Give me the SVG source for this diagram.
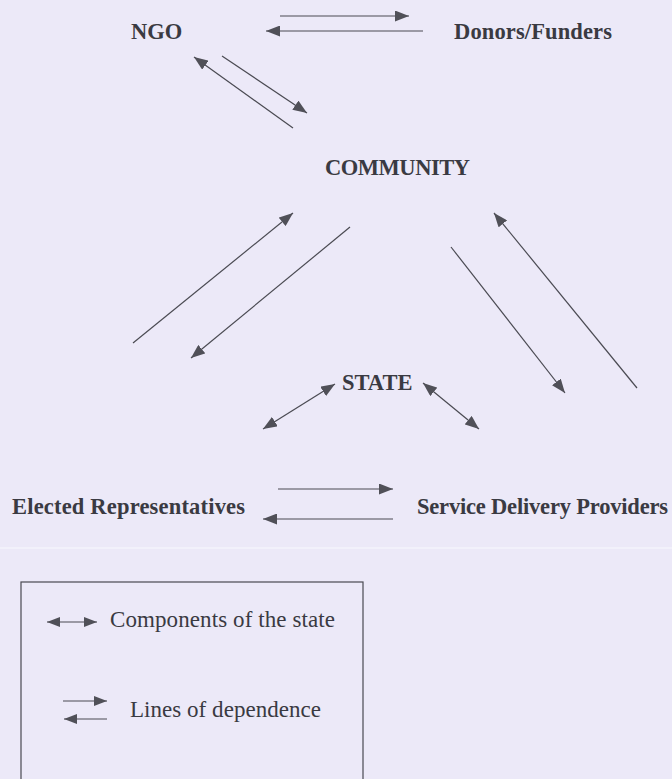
<svg xmlns="http://www.w3.org/2000/svg" width="672" height="779" viewBox="0 0 672 779">
  <defs>
    <marker id="ah" viewBox="0 0 14 11" refX="14" refY="5.5" markerWidth="14" markerHeight="11" markerUnits="userSpaceOnUse" orient="auto-start-reverse">
      <path d="M0,0 L14,5.5 L0,11 z" fill="#505058"/>
    </marker>
    <marker id="ahs" viewBox="0 0 13 10" refX="13" refY="5" markerWidth="13" markerHeight="10" markerUnits="userSpaceOnUse" orient="auto-start-reverse">
      <path d="M0,0 L13,5 L0,10 z" fill="#505058"/>
    </marker>
    <style>
      .lbl { font-family: "Liberation Serif", "Times New Roman", serif; font-weight: bold; font-size: 22.5px; fill: #3a3a42; }
      .leg { font-family: "Liberation Serif", "Times New Roman", serif; font-size: 23px; fill: #3a3a42; }
      .dep { stroke: #4a4a52; stroke-width: 1.2; fill: none; marker-end: url(#ah); }
      .cmp { stroke: #4a4a52; stroke-width: 1.2; fill: none; marker-start: url(#ah); marker-end: url(#ah); }
      .lg { stroke: #4a4a52; stroke-width: 1.2; fill: none; }
    </style>
  </defs>
  <rect x="0" y="0" width="672" height="779" fill="#ece9f8"/>
  <line x1="0" y1="548" x2="672" y2="548" stroke="#f5f3fc" stroke-width="1.5"/>

  <g id="ngo"><text class="lbl" x="131" y="39">NGO</text></g>
  <g id="donors"><text class="lbl" x="454" y="39" textLength="158" lengthAdjust="spacing">Donors/Funders</text></g>
  <g id="community"><text class="lbl" x="325" y="175" textLength="145" lengthAdjust="spacing">COMMUNITY</text></g>
  <g id="state"><text class="lbl" x="342" y="390">STATE</text></g>
  <g id="elected"><text class="lbl" x="12" y="514" textLength="233" lengthAdjust="spacing">Elected Representatives</text></g>
  <g id="service"><text class="lbl" x="417" y="514" textLength="251" lengthAdjust="spacing">Service Delivery Providers</text></g>

  <g id="connectors">
    <line class="dep" x1="280" y1="16" x2="409" y2="16"/>
    <line class="dep" x1="423" y1="31" x2="266" y2="31"/>
    <line class="dep" x1="293" y1="128" x2="194" y2="57"/>
    <line class="dep" x1="222" y1="56" x2="307" y2="113"/>
    <line class="dep" x1="133" y1="343" x2="293" y2="213"/>
    <line class="dep" x1="350" y1="227" x2="191" y2="358"/>
    <line class="dep" x1="451" y1="247" x2="565" y2="393"/>
    <line class="dep" x1="637" y1="388" x2="494" y2="213"/>
    <line class="cmp" x1="335" y1="384" x2="263" y2="429"/>
    <line class="cmp" x1="423" y1="383" x2="479" y2="429"/>
    <line class="dep" x1="278" y1="489" x2="393" y2="489"/>
    <line class="dep" x1="393" y1="519" x2="263" y2="519"/>
  </g>

  <g id="legend">
    <rect x="21" y="582" width="342" height="230" fill="none" stroke="#4a4a52" stroke-width="1.2"/>
    <line class="lg" x1="47" y1="622" x2="97" y2="622" marker-start="url(#ahs)" marker-end="url(#ahs)"/>
    <text class="leg" x="110" y="627" textLength="225" lengthAdjust="spacing">Components of the state</text>
    <line class="lg" x1="63" y1="701" x2="107" y2="701" marker-end="url(#ahs)"/>
    <line class="lg" x1="107" y1="719" x2="64" y2="719" marker-end="url(#ahs)"/>
    <text class="leg" x="130" y="717" textLength="191" lengthAdjust="spacing">Lines of dependence</text>
  </g>
</svg>
